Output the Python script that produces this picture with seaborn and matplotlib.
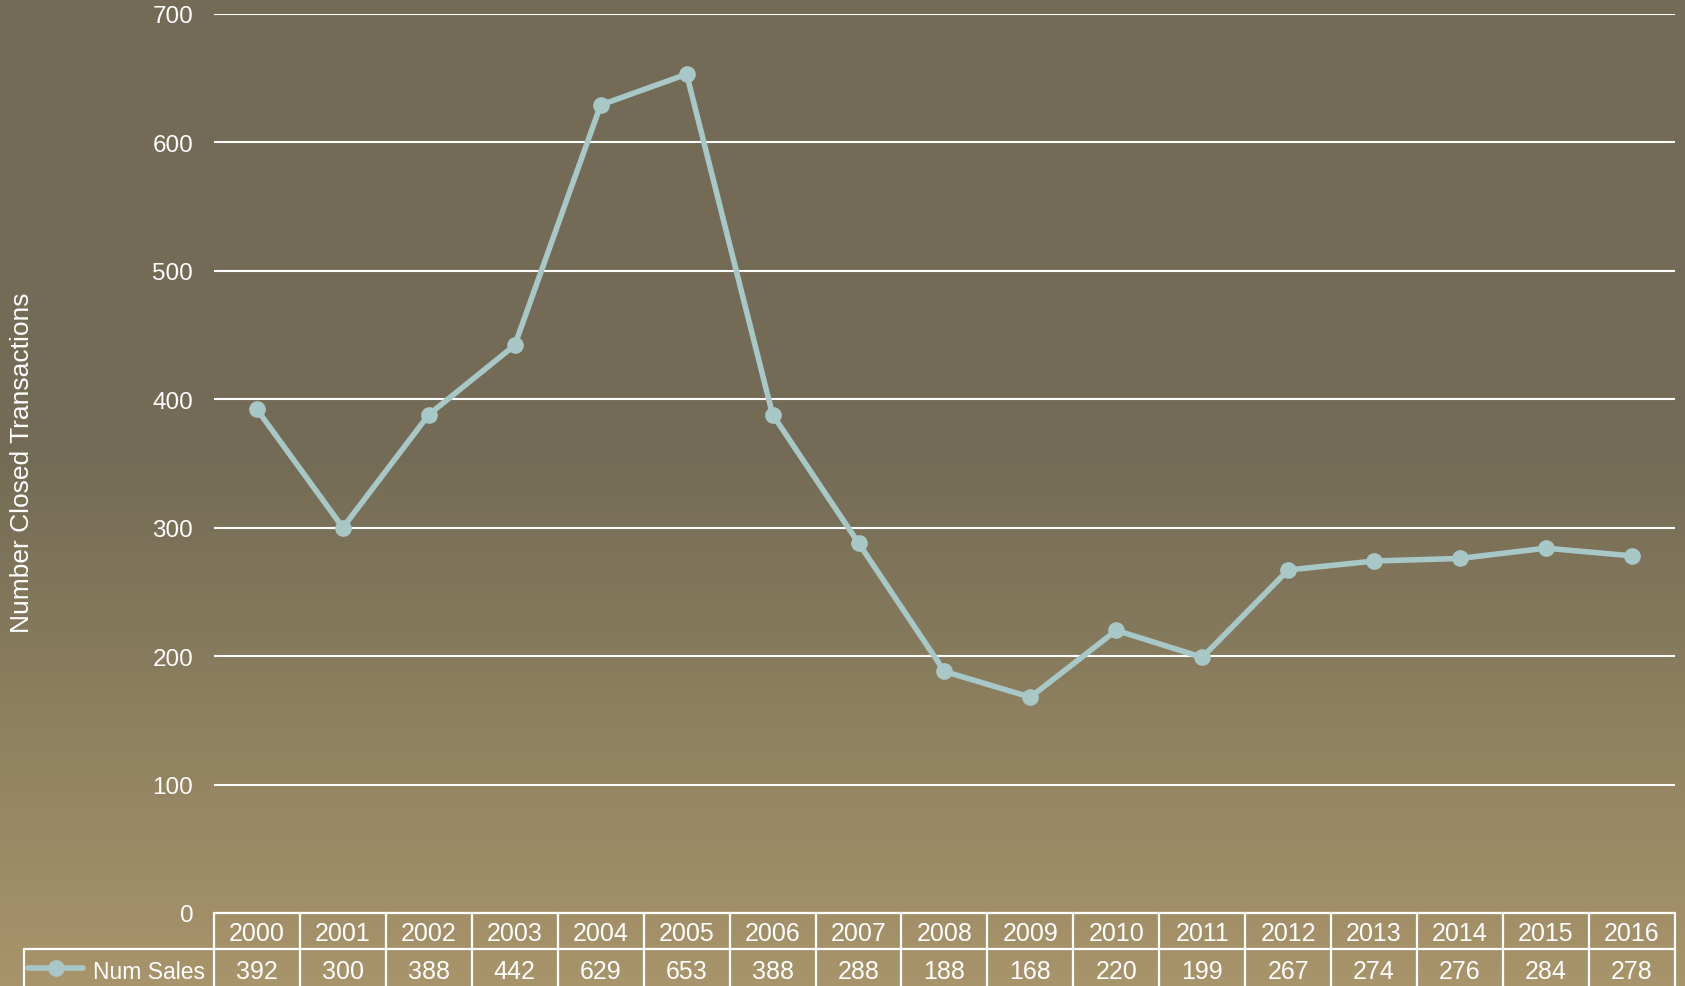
import numpy as np
import pandas as pd
import matplotlib
matplotlib.use("Agg")
import matplotlib.pyplot as plt
from matplotlib.colors import LinearSegmentedColormap
from matplotlib.lines import Line2D
import seaborn as sns

years = ["2000", "2001", "2002", "2003", "2004", "2005", "2006", "2007", "2008",
         "2009", "2010", "2011", "2012", "2013", "2014", "2015", "2016"]
num_sales = [392, 300, 388, 442, 629, 653, 388, 288, 188,
             168, 220, 199, 267, 274, 276, 284, 278]
y_ticks = [0, 100, 200, 300, 400, 500, 600, 700]
series_name = "Num Sales"
y_label = "Number Closed Transactions"

LINE_COLOR = "#a8c8c8"
BG_TOP = "#736b55"
BG_BOTTOM = "#a8946a"

sns.set_style("white")
plt.rcParams["font.family"] = ["Liberation Sans", "DejaVu Sans"]

fig = plt.figure(figsize=(16.85, 9.87), dpi=100)

# ── background gradient (flat on top, warming towards the bottom) ──
bg = fig.add_axes([0, 0, 1, 1], zorder=-10)
ramp = np.concatenate([np.zeros(45), np.linspace(0, 1, 55)]).reshape(-1, 1)
cmap = LinearSegmentedColormap.from_list("bg", [BG_TOP, BG_BOTTOM])
bg.imshow(ramp, aspect="auto", cmap=cmap, extent=[0, 1, 0, 1], origin="upper")
bg.set_axis_off()

ax = fig.add_axes([0.127, 0.074, 0.867, 0.911])
ax.set_facecolor("none")

df = pd.DataFrame({"year": years, "sales": num_sales})
sns.lineplot(data=df, x="year", y="sales", sort=False, ax=ax, color=LINE_COLOR,
             linewidth=4, marker="o", markersize=12, markeredgewidth=0,
             zorder=5)

ax.set_xlim(-0.5, len(years) - 0.5)
ax.set_ylim(y_ticks[0], y_ticks[-1])
ax.set_yticks(y_ticks)
ax.yaxis.grid(True, color="white", linewidth=1.5)
ax.xaxis.grid(False)
for side in ["left", "right", "top", "bottom"]:
    ax.spines[side].set_visible(False)
ax.tick_params(axis="y", length=0, pad=15, labelsize=17.5, labelcolor="white")
ax.tick_params(axis="x", length=0, labelbottom=False)
ax.set_xlabel("")
ax.set_ylabel("")
fig.text(0.013, 0.531, y_label, rotation=90, ha="center", va="center",
         fontsize=19, color="white")

# ── data table under the axis ──
trans = ax.get_xaxis_transform()
row_split = -0.040
table_bottom = -0.12
line_kw = dict(color="white", linewidth=1.6, clip_on=False, zorder=6)

ax.plot([-0.5, len(years) - 0.5], [0, 0], transform=trans, **line_kw)
for k in range(len(years) + 1):
    ax.plot([k - 0.5, k - 0.5], [0, table_bottom], transform=trans, **line_kw)
for i, (yr, val) in enumerate(zip(years, num_sales)):
    ax.text(i, -0.022, yr, transform=trans, ha="center", va="center",
            fontsize=18, color="white")
    ax.text(i, -0.065, str(val), transform=trans, ha="center", va="center",
            fontsize=18, color="white")

# legend cell on the left of the value row
legend_left = -0.130
ax.plot([legend_left, 1], [row_split, row_split], transform=ax.transAxes, **line_kw)
ax.plot([legend_left, legend_left], [row_split, table_bottom],
        transform=ax.transAxes, **line_kw)
key = Line2D([-0.127, -0.090], [-0.061, -0.061], transform=ax.transAxes,
             color=LINE_COLOR, linewidth=4, clip_on=False, zorder=7)
ax.add_line(key)
ax.plot([-0.108], [-0.061], transform=ax.transAxes, marker="o", markersize=12,
        markeredgewidth=0, color=LINE_COLOR, clip_on=False, zorder=8)
ax.text(-0.006, -0.065, series_name, transform=ax.transAxes, ha="right",
        va="center", fontsize=16.5, color="white")

fig.savefig("out.png", dpi=100)
